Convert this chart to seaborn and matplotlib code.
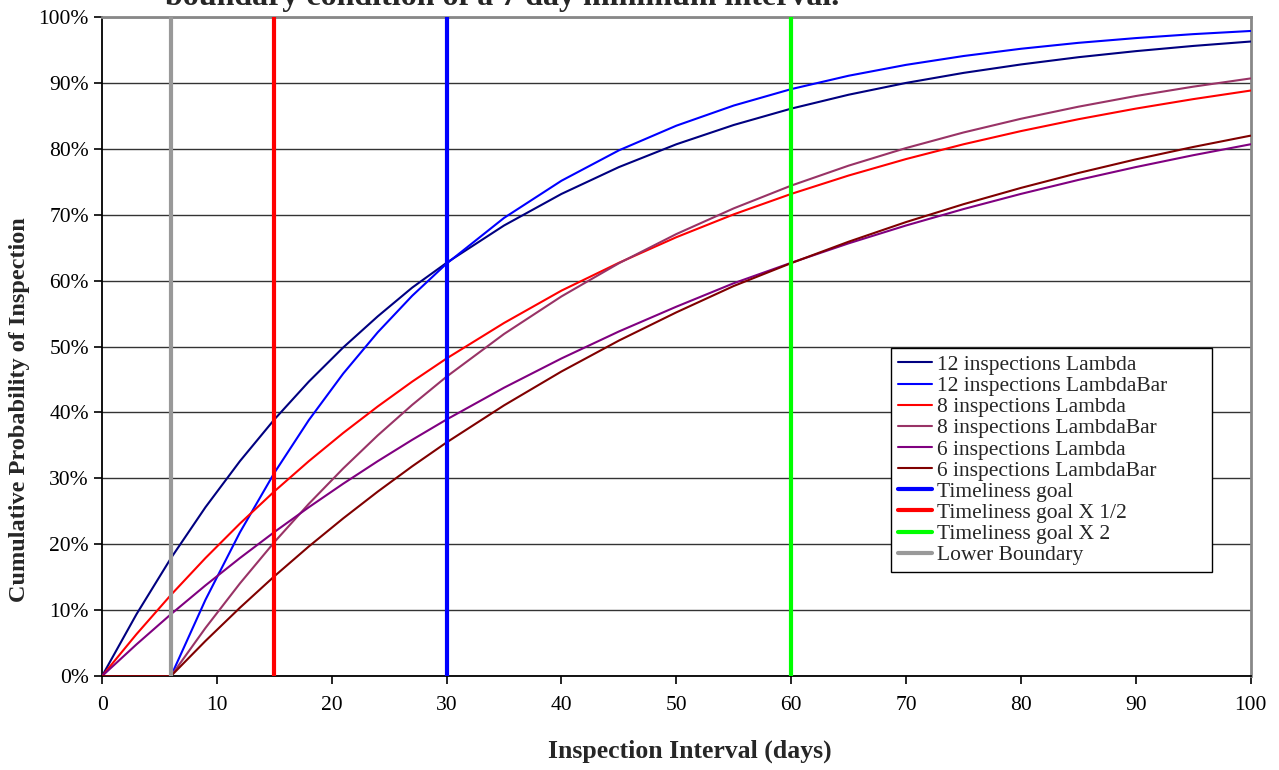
import numpy as np
import pandas as pd
import matplotlib
matplotlib.use("Agg")
import matplotlib.pyplot as plt
import seaborn as sns
from matplotlib.ticker import PercentFormatter

# Inspection interval (days) at which values were read
days = [0, 3, 6, 9, 12, 15, 18, 21, 24, 27, 30, 35, 40, 45, 50, 55, 60, 65, 70, 75, 80, 85, 90, 95, 100]

# Cumulative probability of inspection (fractions)
insp12_lambda = [0.0, 0.0939, 0.1790, 0.2561, 0.3260, 0.3893, 0.4467, 0.4986, 0.5457, 0.5893, 0.6270,
                 0.6836, 0.7315, 0.7722, 0.8068, 0.8361, 0.8609, 0.8820, 0.8999, 0.9151, 0.9279,
                 0.9389, 0.9481, 0.9560, 0.9627]
insp12_lambdabar = [0.0, 0.0, 0.0, 0.1156, 0.2179, 0.3083, 0.3883, 0.4590, 0.5215, 0.5769, 0.6258,
                    0.6951, 0.7515, 0.7976, 0.8350, 0.8656, 0.8905, 0.9108, 0.9273, 0.9407, 0.9517,
                    0.9607, 0.9679, 0.9739, 0.9787]
insp8_lambda = [0.0, 0.0636, 0.1232, 0.1790, 0.2313, 0.2802, 0.3260, 0.3689, 0.4090, 0.4467, 0.4819,
                0.5357, 0.5848, 0.6270, 0.6658, 0.7005, 0.7315, 0.7594, 0.7844, 0.8068, 0.8268,
                0.8448, 0.8609, 0.8753, 0.8883]
insp8_lambdabar = [0.0, 0.0, 0.0, 0.0729, 0.1405, 0.2032, 0.2613, 0.3151, 0.3651, 0.4114, 0.4543,
                   0.5190, 0.5760, 0.6263, 0.6706, 0.7096, 0.7441, 0.7744, 0.8011, 0.8247, 0.8455,
                   0.8638, 0.8800, 0.8942, 0.9067]
insp6_lambda = [0.0, 0.0481, 0.0939, 0.1375, 0.1790, 0.2185, 0.2561, 0.2919, 0.3260, 0.3584, 0.3893,
                0.4375, 0.4819, 0.5228, 0.5604, 0.5960, 0.6270, 0.6565, 0.6836, 0.7085, 0.7315,
                0.7527, 0.7722, 0.7902, 0.8068]
insp6_lambdabar = [0.0, 0.0, 0.0, 0.0532, 0.1036, 0.1514, 0.1966, 0.2393, 0.2798, 0.3182, 0.3545,
                   0.4107, 0.4621, 0.5090, 0.5518, 0.5918, 0.6265, 0.6590, 0.6888, 0.7159, 0.7406,
                   0.7632, 0.7839, 0.8027, 0.8199]

curve_labels = ["12 inspections Lambda", "12 inspections LambdaBar", "8 inspections Lambda",
                "8 inspections LambdaBar", "6 inspections Lambda", "6 inspections LambdaBar"]
curve_colors = ["#000080", "#0000FF", "#FF0000", "#993366", "#800080", "#800000"]

# vertical reference lines (days)
goal_days = [30, 15, 60, 6]
goal_labels = ["Timeliness goal", "Timeliness goal X 1/2", "Timeliness goal X 2", "Lower Boundary"]
goal_colors = ["#0000FF", "#FF0000", "#00FF00", "#999999"]

sns.set_style("white")
plt.rcParams["font.family"] = ["Liberation Serif", "DejaVu Serif"]

fig = plt.figure(figsize=(12.79, 7.70), dpi=100)
ax = fig.add_axes([0.0798, 0.122, 0.898, 0.856])

series = [insp12_lambda, insp12_lambdabar, insp8_lambda, insp8_lambdabar, insp6_lambda, insp6_lambdabar]
for vals, lab, col in zip(series, curve_labels, curve_colors):
    sns.lineplot(x=days, y=vals, color=col, label=lab, linewidth=1.5, ax=ax, zorder=3)

for d, lab, col in zip(goal_days, goal_labels, goal_colors):
    ax.axvline(d, color=col, linewidth=3, label=lab, zorder=4)

ax.set_xlim(0, 100)
ax.set_ylim(0, 1)
ax.set_xticks(np.arange(0, 101, 10))
ax.set_yticks(np.arange(0, 1.01, 0.1))
ax.yaxis.set_major_formatter(PercentFormatter(1.0, decimals=0))
ax.tick_params(axis="both", labelsize=15.5, direction="out", length=6, width=1.2,
               left=True, bottom=True, colors="black")
ax.tick_params(axis="x", pad=8)
ax.grid(axis="y", color="#333333", linewidth=1)
ax.set_axisbelow(True)

for s in ["left", "bottom"]:
    ax.spines[s].set_color("black")
    ax.spines[s].set_linewidth(1.3)
for s in ["top", "right"]:
    ax.spines[s].set_color("#888888")
    ax.spines[s].set_linewidth(2)

ax.set_xlabel("Inspection Interval (days)", fontsize=18.5, fontweight="bold")
ax.xaxis.set_label_coords(0.512, -0.097)
ax.set_ylabel("Cumulative Probability of Inspection", fontsize=17.5, fontweight="bold")
ax.yaxis.set_label_coords(-0.063, 0.404)

leg = ax.legend(loc="upper left", bbox_to_anchor=(0.687, 0.497, 0.279, 0.0), mode="expand",
                fontsize=15.5, frameon=True, fancybox=False, framealpha=1, edgecolor="black",
                handlelength=1.6, handletextpad=0.25, labelspacing=0.05, borderpad=0.3,
                borderaxespad=0)
leg.get_frame().set_linewidth(1)

fig.text(0.129, 0.9935, "boundary condition of a 7 day minimum interval.", fontsize=23,
         fontweight="bold", va="baseline", ha="left")

fig.savefig("out.png", dpi=100)
